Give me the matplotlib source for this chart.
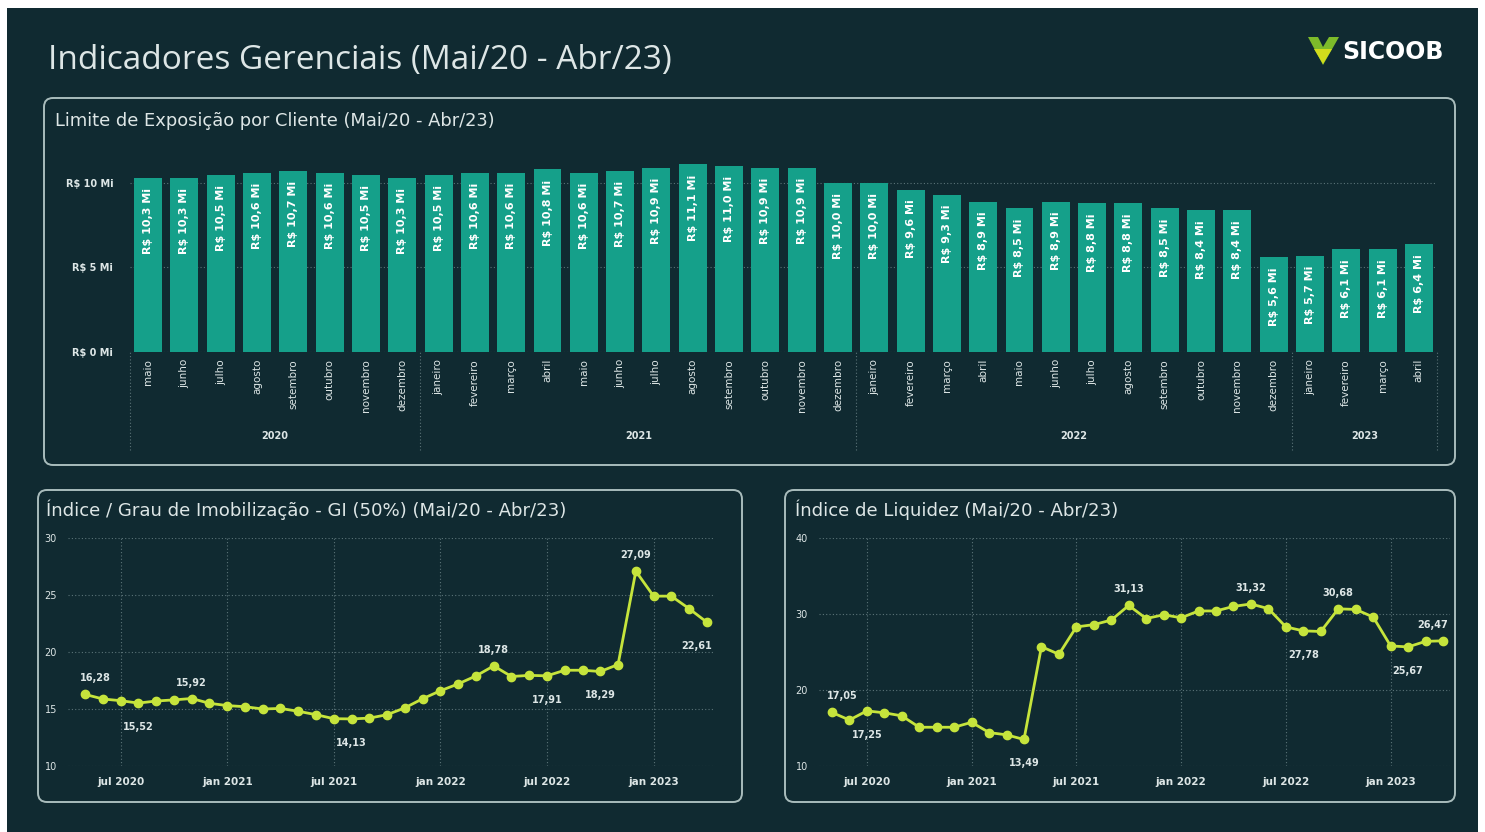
import matplotlib
import matplotlib.pyplot as plt
from matplotlib.patches import FancyBboxPatch, Rectangle, Polygon
from matplotlib.transforms import Affine2D

matplotlib.use("Agg")

# Data
meses = ["maio", "junho", "julho", "agosto", "setembro", "outubro", "novembro", "dezembro",
         "janeiro", "fevereiro", "março", "abril", "maio", "junho", "julho", "agosto",
         "setembro", "outubro", "novembro", "dezembro",
         "janeiro", "fevereiro", "março", "abril", "maio", "junho", "julho", "agosto",
         "setembro", "outubro", "novembro", "dezembro",
         "janeiro", "fevereiro", "março", "abril"]
anos = ["2020", "2021", "2022", "2023"]
meses_por_ano = [8, 12, 12, 4]
limite_mi = [10.3, 10.3, 10.5, 10.6, 10.7, 10.6, 10.5, 10.3,
             10.5, 10.6, 10.6, 10.8, 10.6, 10.7, 10.9, 11.1, 11.0, 10.9, 10.9, 10.0,
             10.0, 9.6, 9.3, 8.9, 8.5, 8.9, 8.8, 8.8, 8.5, 8.4, 8.4, 5.6,
             5.7, 6.1, 6.1, 6.4]
limite_ticks = [0, 5, 10]

grau_imob = [16.28, 15.88, 15.73, 15.52, 15.70, 15.80, 15.92, 15.50, 15.30, 15.20, 15.00, 15.05,
             14.80, 14.50, 14.15, 14.13, 14.20, 14.50, 15.10, 15.90, 16.60, 17.20, 17.90, 18.78,
             17.85, 17.95, 17.91, 18.40, 18.40, 18.29, 18.90, 27.09, 24.90, 24.90, 23.80, 22.61]
grau_rotulos = {0: "up", 3: "down", 6: "up", 15: "down", 23: "up", 26: "down",
                29: "down", 31: "up", 35: "down"}

liquidez = [17.05, 16.05, 17.25, 17.00, 16.60, 15.10, 15.10, 15.10, 15.75, 14.40, 14.10, 13.49,
            25.70, 24.70, 28.30, 28.60, 29.20, 31.13, 29.40, 29.90, 29.50, 30.40, 30.40, 31.00,
            31.32, 30.70, 28.30, 27.78, 27.70, 30.68, 30.60, 29.60, 25.80, 25.67, 26.40, 26.47]
liquidez_rotulos = {0: "up", 2: "down", 11: "down", 17: "up", 24: "up", 27: "down",
                    29: "up", 33: "down", 35: "up"}

data_ticks = [2, 8, 14, 20, 26, 32]
data_ticklabels = ["jul 2020", "jan 2021", "jul 2021", "jan 2022", "jul 2022", "jan 2023"]

# Style
W, H = 1485, 832
BG = "#102a31"
TEXT = "#dde6e6"
BAR = "#15a08a"
LINE = "#c6e43c"
BORDER = "#a9bcbc"
GRID = "#5b7378"

fig = plt.figure(figsize=(W / 100, H / 100), dpi=100)
fig.patch.set_facecolor("white")
pix = Affine2D().scale(1 / W, -1 / H).translate(0, 1) + fig.transFigure


def axes_px(l, t, r, b):
    return fig.add_axes([l / W, 1 - b / H, (r - l) / W, (b - t) / H])


def panel(l, t, r, b):
    fig.patches.append(FancyBboxPatch((l, t), r - l, b - t, boxstyle="round,pad=0,rounding_size=9",
                                      transform=pix, facecolor="none", edgecolor=BORDER, lw=1.4,
                                      zorder=-1))


fig.patches.append(Rectangle((7, 8), 1471, 830, transform=pix, facecolor=BG, edgecolor="none",
                             zorder=-2))

# Header
fig.text(48 / W, 1 - 60 / H, "Indicadores Gerenciais (Mai/20 - Abr/23)", color=TEXT,
         fontsize=24, family="Open Sans", va="center", ha="left")
fig.patches.append(Polygon([(1308, 37), (1339, 37), (1323, 65)], transform=pix,
                           facecolor="#7dbb2a", edgecolor="none"))
fig.patches.append(Polygon([(1314, 49), (1332, 49), (1323, 64)], transform=pix,
                           facecolor="#d2dc1c", edgecolor="none"))
fig.patches.append(Polygon([(1318, 37), (1329, 37), (1323, 47)], transform=pix,
                           facecolor=BG, edgecolor="none"))
fig.text(1342 / W, 1 - 52 / H, "SICOOB", color="white", fontsize=17, fontweight="bold",
         va="center", ha="left")

# Panels
panel(44, 98, 1455, 465)
panel(38, 490, 742, 802)
panel(785, 490, 1455, 802)
fig.text(55 / W, 1 - 121 / H, "Limite de Exposição por Cliente (Mai/20 - Abr/23)", color=TEXT,
         fontsize=12.9, va="center", ha="left")
fig.text(46 / W, 1 - 510 / H, "Índice / Grau de Imobilização - GI (50%) (Mai/20 - Abr/23)",
         color=TEXT, fontsize=13.1, va="center", ha="left")
fig.text(795 / W, 1 - 510 / H, "Índice de Liquidez (Mai/20 - Abr/23)", color=TEXT,
         fontsize=13.1, va="center", ha="left")

# Bar chart
ax = axes_px(130, 160, 1437, 352)
ax.set_facecolor("none")
x = list(range(len(limite_mi)))
ax.bar(x, limite_mi, width=0.77, color=BAR, zorder=2)
for i, v in enumerate(limite_mi):
    ax.annotate(f"R$ {v:.1f} Mi".replace(".", ","), (i, v), xytext=(0, -10),
                textcoords="offset pixels", rotation=90, ha="center", va="top",
                color="white", fontsize=8, fontweight="bold", zorder=3)
ax.set_xlim(-0.5, len(limite_mi) - 0.5)
ax.set_ylim(0, 11.36)
ax.set_yticks(limite_ticks)
ax.set_yticklabels([f"R$ {t} Mi" for t in limite_ticks], color=TEXT, fontsize=7, fontweight="bold")
ax.set_xticks(x)
ax.set_xticklabels(meses, rotation=90, color=TEXT, fontsize=7.5, va="top")
ax.tick_params(length=0, pad=5)
ax.tick_params(axis="y", pad=12)
for s in ax.spines.values():
    s.set_visible(False)
ax.grid(axis="y", linestyle=(0, (1, 2)), color=GRID, lw=0.8, zorder=0)
start = 0
for ano, n in zip(anos, meses_por_ano):
    ax.axvline(start - 0.5, ymin=-0.51, ymax=0, clip_on=False, color=GRID, lw=0.8,
               linestyle=(0, (1, 2)))
    ax.text(start + (n - 1) / 2, -0.44, ano, transform=ax.get_xaxis_transform(), color=TEXT,
            fontsize=7, fontweight="bold", ha="center", va="center")
    start += n
ax.axvline(start - 0.5, ymin=-0.51, ymax=0, clip_on=False, color=GRID, lw=0.8,
           linestyle=(0, (1, 2)))


def line_chart(ax, values, rotulos, ylim, yticks):
    ax.set_facecolor("none")
    xs = list(range(len(values)))
    ax.plot(xs, values, color=LINE, lw=2, marker="o", ms=6, mfc=LINE, mec=LINE, zorder=3)
    for i, pos in rotulos.items():
        dy = 16 if pos == "up" else -24
        dx = 10 if i == 0 else (-10 if i == len(values) - 1 else 0)
        ax.annotate(f"{values[i]:.2f}".replace(".", ","), (xs[i], values[i]), xytext=(dx, dy),
                    textcoords="offset pixels", ha="center", va="center", color=TEXT,
                    fontsize=7, fontweight="bold", zorder=4)
    ax.set_ylim(*ylim)
    ax.set_yticks(yticks)
    ax.set_yticklabels([str(t) for t in yticks], color=TEXT, fontsize=7)
    ax.set_xticks(data_ticks)
    ax.set_xticklabels(data_ticklabels, color=TEXT, fontsize=7.5, fontweight="bold")
    ax.tick_params(length=0, pad=8)
    for s in ax.spines.values():
        s.set_visible(False)
    ax.grid(True, linestyle=(0, (1, 2)), color=GRID, lw=0.8, zorder=0)


ax1 = axes_px(68, 538, 714, 766)
line_chart(ax1, grau_imob, grau_rotulos, (10, 30), [10, 15, 20, 25, 30])
ax1.set_xlim(-0.96, 35.4)

ax2 = axes_px(819, 538, 1450, 766)
line_chart(ax2, liquidez, liquidez_rotulos, (10, 40), [10, 20, 30, 40])
ax2.set_xlim(-0.74, 35.4)

fig.savefig("out.png", dpi=100, facecolor=fig.get_facecolor())
